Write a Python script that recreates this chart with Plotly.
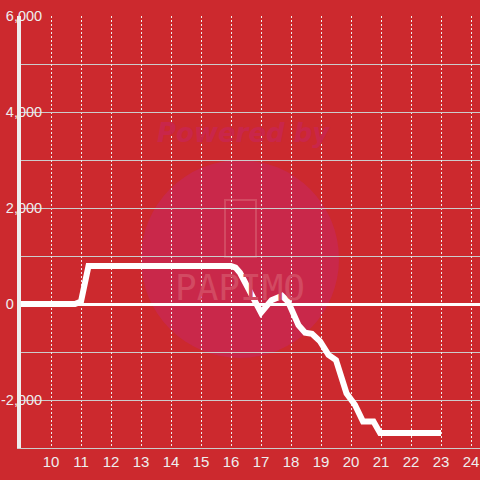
import plotly.graph_objects as go

# Data
hours = [9, 10.8, 11.0, 11.25, 16.0, 16.15, 16.3, 17.0, 17.35, 17.7, 17.9, 18.25, 18.47,
         18.7, 18.97, 19.25, 19.5, 19.85, 20.13, 20.4, 20.75, 20.97, 23.0]
values = [0, 0, 50, 790, 790, 760, 650, -180, 80, 170, 50, -440, -600,
          -620, -780, -1060, -1170, -1860, -2100, -2450, -2450, -2690, -2690]

x_ticks = list(range(10, 25))
y_tick_vals = [-2000, 0, 2000, 4000, 6000]
y_tick_text = ["-2,000", "0" + "\u00a0" * 7, "2,000", "4,000", "6,000"]

BG = "#CC292E"
FONT = "Liberation Sans, Arial, sans-serif"

fig = go.Figure()
fig.add_trace(go.Scatter(
    x=hours, y=values, mode="lines",
    line=dict(color="#ffffff", width=6),
    hoverinfo="skip", showlegend=False,
))

# Watermark
fig.add_shape(type="circle", xref="paper", yref="paper",
              x0=(141 - 21) / 459, x1=(339 - 21) / 459,
              y0=(448 - 358) / 432, y1=(448 - 160) / 432,
              fillcolor="#C9284A", line=dict(width=0), layer="below")
fig.add_shape(type="rect", xref="paper", yref="paper",
              x0=(225 - 21) / 459, x1=(256 - 21) / 459,
              y0=(448 - 257) / 432, y1=(448 - 200) / 432,
              fillcolor="rgba(0,0,0,0)", line=dict(color="#D24A62", width=2), layer="below")
fig.add_annotation(text="<b><i>Powered by</i></b>", xref="paper", yref="paper",
                   x=(243 - 21) / 459, y=(448 - 133) / 432, showarrow=False,
                   xanchor="center", yanchor="middle",
                   font=dict(family="DejaVu Sans", size=26, color="#C9264A"))
fig.add_annotation(text="PAPIMO", xref="paper", yref="paper",
                   x=(240 - 21) / 459, y=(448 - 287) / 432, showarrow=False,
                   xanchor="center", yanchor="middle",
                   font=dict(family="DejaVu Sans Mono", size=36, color="#D24A62"))

fig.update_layout(
    width=480, height=480,
    margin=dict(l=21, r=0, t=16, b=32, autoexpand=False),
    paper_bgcolor=BG, plot_bgcolor=BG,
    font=dict(family=FONT, size=15, color="#eeeeee"),
    xaxis=dict(
        range=[9, 24.3], tickvals=x_ticks, ticktext=[str(v) for v in x_ticks],
        showgrid=True, gridcolor="#eeeeee", gridwidth=1, griddash="2px,2px",
        showline=True, linecolor="#cccccc", linewidth=1,
        zeroline=False, ticks="", fixedrange=True, automargin=False,
    ),
    yaxis=dict(
        range=[-3000, 6000], tickvals=y_tick_vals, ticktext=y_tick_text,
        showgrid=True, gridcolor="#cccccc", gridwidth=1,
        minor=dict(dtick=1000, tick0=0, showgrid=True, gridcolor="#cccccc", gridwidth=1),
        showline=True, linecolor="#eeeeee", linewidth=4,
        zeroline=True, zerolinecolor="#ffffff", zerolinewidth=3,
        ticks="", ticklabelstandoff=-28, fixedrange=True, automargin=False,
        tickfont=dict(size=14.5),
    ),
)

fig.write_html(
    "out.html",
    config={"displayModeBar": False, "staticPlot": True},
    post_script="document.body.style.margin='0';document.body.style.overflow='hidden';",
)
